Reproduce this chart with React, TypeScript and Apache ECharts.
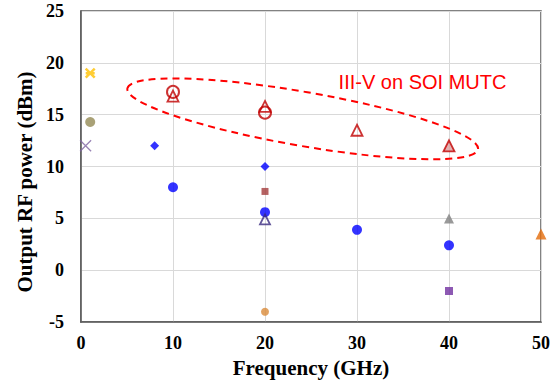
import React, { useEffect, useRef } from "react";
import * as echarts from "echarts";

// x: frequency (GHz), y: output RF power (dBm)
const mutcCircle = [[10, 17.2], [20, 15.2]];
const mutcTriangle = [[10, 16.8], [20, 15.8], [30, 13.5]];
const mutcTriangleShaded = [[40, 12]];
const blueCircles = [[10, 8], [20, 5.6], [30, 3.9], [40, 2.4]];
const blueDiamonds = [[8, 12], [20, 10]];
const yellowStar = [[1, 19]];
const oliveCircle = [[1, 14.3]];
const purpleCross = [[0.5, 12]];
const brownSquare = [[20, 7.6]];
const navyTriangle = [[20, 4.9]];
const orangeCircle = [[20, -4]];
const grayTriangle = [[40, 5]];
const purpleSquare = [[40, -2]];
const orangeTriangle = [[50, 3.5]];

const xTicks = [0, 10, 20, 30, 40, 50];
const yTicks = [-5, 0, 5, 10, 15, 20, 25];

const annotationText = "III-V on SOI MUTC";
const annotationPos = [28.0, 18.2];
const ellipseCenter = [24.1, 14.6];

const serif = "Liberation Serif";

export default function App() {
  const ref = useRef<HTMLDivElement>(null);
  useEffect(() => {
    if (!ref.current) return;
    const chart = echarts.init(ref.current, null, { renderer: "svg" });
    const sc = (name: string, data: number[][], symbol: string, size: number, itemStyle: any, z = 2) => ({
      name,
      type: "scatter",
      data,
      symbol,
      symbolSize: size,
      itemStyle,
      z,
      clip: false,
    });
    chart.setOption({
      animation: false,
      backgroundColor: "#ffffff",
      grid: {
        left: 81,
        top: 11,
        right: 8,
        bottom: 56,
        show: true,
        borderColor: "#595959",
        borderWidth: 1.5,
        containLabel: false,
      },
      xAxis: {
        type: "value",
        min: xTicks[0],
        max: xTicks[xTicks.length - 1],
        interval: 10,
        name: "Frequency (GHz)",
        nameLocation: "middle",
        nameGap: 30,
        nameTextStyle: { fontFamily: serif, fontWeight: "bold", fontSize: 21, color: "#000" },
        axisLine: { show: true, onZero: false, lineStyle: { color: "#595959", width: 1.5 } },
        axisTick: { show: false },
        axisLabel: { fontFamily: serif, fontWeight: "bold", fontSize: 18, color: "#000", margin: 12 },
        splitLine: { show: true, lineStyle: { color: "#D9D9D9", width: 1 } },
      },
      yAxis: {
        type: "value",
        min: yTicks[0],
        max: yTicks[yTicks.length - 1],
        interval: 5,
        axisLine: { show: true, onZero: false, lineStyle: { color: "#595959", width: 1.5 } },
        axisTick: { show: false },
        axisLabel: { fontFamily: serif, fontWeight: "bold", fontSize: 18, color: "#000", margin: 17 },
        splitLine: { show: true, lineStyle: { color: "#D9D9D9", width: 1 } },
      },
      series: [
        sc("yellow", yellowStar, "path://M0,0L10,10M10,0L0,10M0,5L10,5", 9, { color: "none", borderColor: "#FFC000", borderWidth: 2.5 }),
        sc("olive", oliveCircle, "circle", 10, { color: "#948A54" }),
        sc("purpleX", purpleCross, "path://M0,0L10,10M10,0L0,10", 11, { color: "none", borderColor: "#8064A2", borderWidth: 1.3 }),
        sc("blueDiamond", blueDiamonds, "diamond", 9, { color: "#0000FF" }),
        sc("blueCircle", blueCircles, "circle", 10, { color: "#0000FF" }),
        sc("brownSquare", brownSquare, "rect", 7, { color: "#A33B3B" }),
        sc("navyTriangle", navyTriangle, "triangle", 10, { color: "none", borderColor: "#3A2A80", borderWidth: 1.8 }, 3),
        sc("orangeCircle", orangeCircle, "circle", 8, { color: "#D98B3A" }),
        sc("grayTriangle", grayTriangle, "triangle", 10, { color: "#7F7F7F" }),
        sc("purpleSquare", purpleSquare, "rect", 8, { color: "#7030A0" }),
        sc("orangeTriangle", orangeTriangle, "triangle", 11, { color: "#E46C0A" }),
        sc("mutcCircle", mutcCircle, "circle", 12, { color: "none", borderColor: "#C00000", borderWidth: 2 }, 3),
        sc("mutcTriangle", mutcTriangle, "triangle", 11, { color: "none", borderColor: "#C00000", borderWidth: 1.8 }, 3),
        sc("mutcTriangleShaded", mutcTriangleShaded, "triangle", 11, { color: "#DDA0A0", borderColor: "#C00000", borderWidth: 1.8 }, 3),
      ],
    });
    const c = chart.convertToPixel({ gridIndex: 0 }, ellipseCenter) as number[];
    const t = chart.convertToPixel({ gridIndex: 0 }, annotationPos) as number[];
    chart.setOption({
      graphic: [
        {
          type: "ellipse",
          x: c[0],
          y: c[1],
          rotation: -0.172,
          shape: { cx: 0, cy: 0, rx: 178, ry: 27 },
          style: { fill: "none", stroke: "#FF0000", lineWidth: 2, lineDash: [7, 5] },
          z: 10,
        },
        {
          type: "text",
          x: t[0],
          y: t[1],
          style: {
            text: annotationText,
            fill: "#FF0000",
            fontFamily: "Liberation Sans",
            fontSize: 20,
            align: "left",
            verticalAlign: "middle",
          },
          z: 10,
        },
        {
          type: "text",
          x: 25,
          y: 182,
          rotation: Math.PI / 2,
          style: {
            text: "Output RF power (dBm)",
            fill: "#000",
            fontFamily: serif,
            fontWeight: "bold",
            fontSize: 21,
            align: "center",
            verticalAlign: "middle",
          },
          z: 10,
        },
      ],
    });
    return () => chart.dispose();
  }, []);
  return <div ref={ref} style={{ position: "fixed", left: 0, top: 0, width: 553, height: 383 }} />;
}
